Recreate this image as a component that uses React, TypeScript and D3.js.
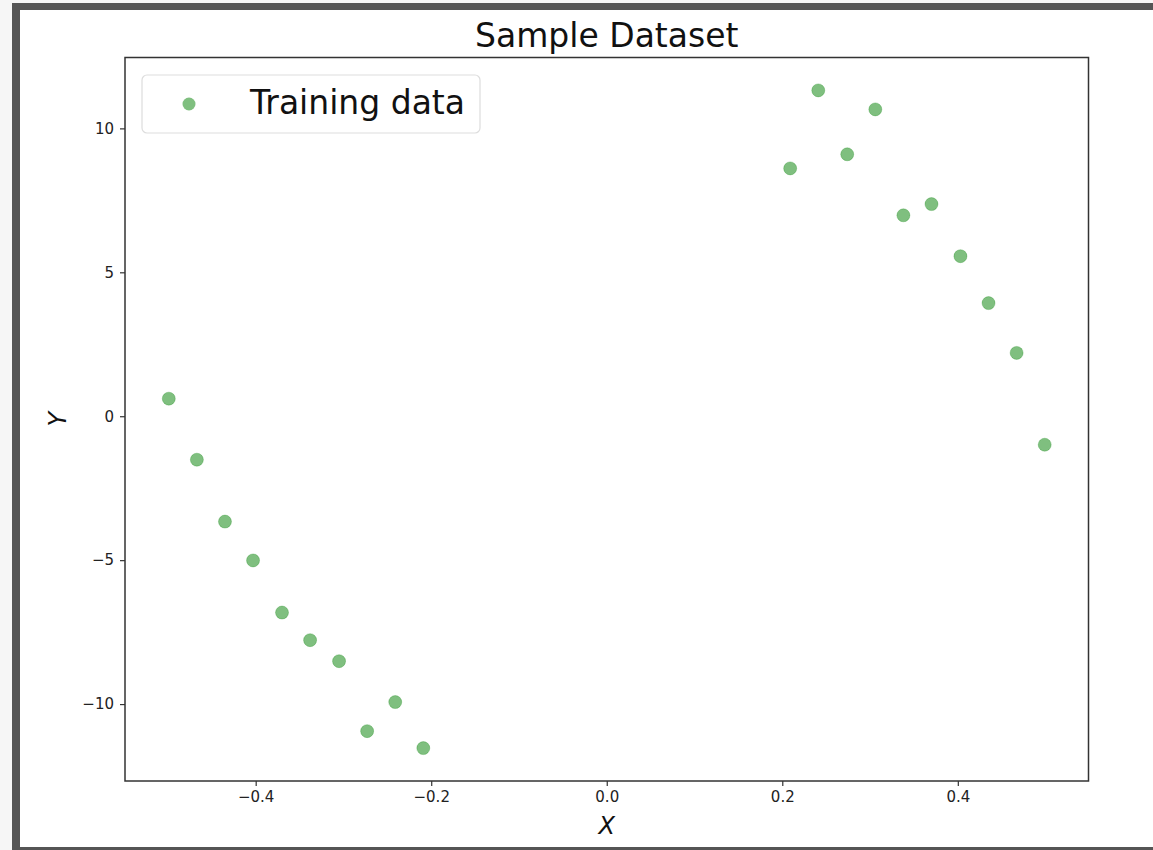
import React, { useEffect, useRef } from 'react';
import * as d3 from 'd3';

// training data
const xLeft = [-0.499, -0.467, -0.435, -0.403, -0.370, -0.338, -0.305, -0.273, -0.241, -0.209];
const yLeft = [0.61, -1.51, -3.66, -5.01, -6.82, -7.78, -8.51, -10.94, -9.93, -11.53];
const xRight = [0.209, 0.241, 0.274, 0.306, 0.338, 0.370, 0.403, 0.435, 0.467, 0.499];
const yRight = [8.61, 11.32, 9.10, 10.66, 6.98, 7.37, 5.56, 3.93, 2.20, -0.99];
const xTicks = [-0.4, -0.2, 0.0, 0.2, 0.4];
const yTicks = [-10, -5, 0, 5, 10];

const font = 'DejaVu Sans, sans-serif';

const App = () => {
    const ref = useRef<SVGSVGElement>(null);

    useEffect(() => {
        const svg = d3.select(ref.current);
        svg.selectAll('*').remove();

        const width = 1153;
        const height = 850;
        const left = 125, right = 1088.5, top = 57.5, bottom = 781;

        // window frame
        svg.append('rect').attr('width', width).attr('height', height).attr('fill', '#f6f6f6');
        svg.append('rect').attr('x', 12).attr('y', 3).attr('width', width - 12).attr('height', height - 3).attr('fill', '#555');
        svg.append('rect').attr('x', 20).attr('y', 10).attr('width', width - 20).attr('height', 837).attr('fill', '#fff');

        const xs = [...xLeft, ...xRight];
        const ys = [...yLeft, ...yRight];
        const xExt = d3.extent(xs) as [number, number];
        const yExt = d3.extent(ys) as [number, number];
        const xPad = (xExt[1] - xExt[0]) * 0.05;
        const yPad = (yExt[1] - yExt[0]) * 0.05;

        const x = d3.scaleLinear().domain([xExt[0] - xPad, xExt[1] + xPad]).range([left, right]);
        const y = d3.scaleLinear().domain([yExt[0] - yPad, yExt[1] + yPad]).range([bottom, top]);

        const fmt = (v: number) => (v < 0 ? '\u2212' : '') + d3.format('.1f')(Math.abs(v));

        const xAxis = svg.append('g').attr('transform', `translate(0,${bottom})`)
            .call(d3.axisBottom(x).tickValues(xTicks).tickSize(5).tickPadding(5).tickFormat((d) => fmt(+d)));
        const yAxis = svg.append('g').attr('transform', `translate(${left},0)`)
            .call(d3.axisLeft(y).tickValues(yTicks).tickSize(5).tickPadding(6)
                .tickFormat((d) => (+d < 0 ? '\u2212' : '') + Math.abs(+d)));
        [xAxis, yAxis].forEach((g) => {
            g.select('.domain').remove();
            g.selectAll('line').attr('stroke', '#333').attr('stroke-width', 1.2);
            g.selectAll('text').attr('font-family', font).attr('font-size', 15).attr('fill', '#222');
        });

        // spines
        svg.append('rect')
            .attr('x', left).attr('y', top)
            .attr('width', right - left).attr('height', bottom - top)
            .attr('fill', 'none').attr('stroke', '#333').attr('stroke-width', 1.5);

        // points
        const points = xs.map((v, i) => ({ x: v, y: ys[i] }));
        svg.append('g').selectAll('circle').data(points).enter()
            .append('circle')
            .attr('cx', (d) => x(d.x))
            .attr('cy', (d) => y(d.y))
            .attr('r', 6.5)
            .attr('fill', '#008000')
            .attr('fill-opacity', 0.5)
            .attr('stroke', '#008000')
            .attr('stroke-opacity', 0.25)
            .attr('stroke-width', 1);

        // title & labels
        svg.append('text').attr('x', (left + right) / 2).attr('y', 47)
            .attr('text-anchor', 'middle').attr('font-family', font).attr('font-size', 33)
            .attr('fill', '#111').text('Sample Dataset');
        svg.append('text').attr('x', (left + right) / 2).attr('y', 834)
            .attr('text-anchor', 'middle').attr('font-family', font).attr('font-size', 24)
            .attr('font-style', 'italic').attr('fill', '#111').text('X');
        svg.append('text').attr('transform', `translate(66,${(top + bottom) / 2}) rotate(-90)`)
            .attr('text-anchor', 'middle').attr('font-family', font).attr('font-size', 24)
            .attr('font-style', 'italic').attr('fill', '#111').text('Y');

        // legend
        const lg = svg.append('g');
        lg.append('rect').attr('x', 142).attr('y', 75).attr('width', 338).attr('height', 58)
            .attr('rx', 5).attr('fill', '#fff').attr('fill-opacity', 0.8)
            .attr('stroke', '#ddd').attr('stroke-width', 1.2);
        lg.append('circle').attr('cx', 189).attr('cy', 104).attr('r', 6.5)
            .attr('fill', '#008000').attr('fill-opacity', 0.5);
        lg.append('text').attr('x', 250).attr('y', 114).attr('font-family', font)
            .attr('font-size', 33).attr('fill', '#111').text('Training data');
    }, []);

    return (
        <svg ref={ref} width={1153} height={850}
            style={{ position: 'absolute', left: 0, top: 0, display: 'block' }} />
    );
};

export default App;
